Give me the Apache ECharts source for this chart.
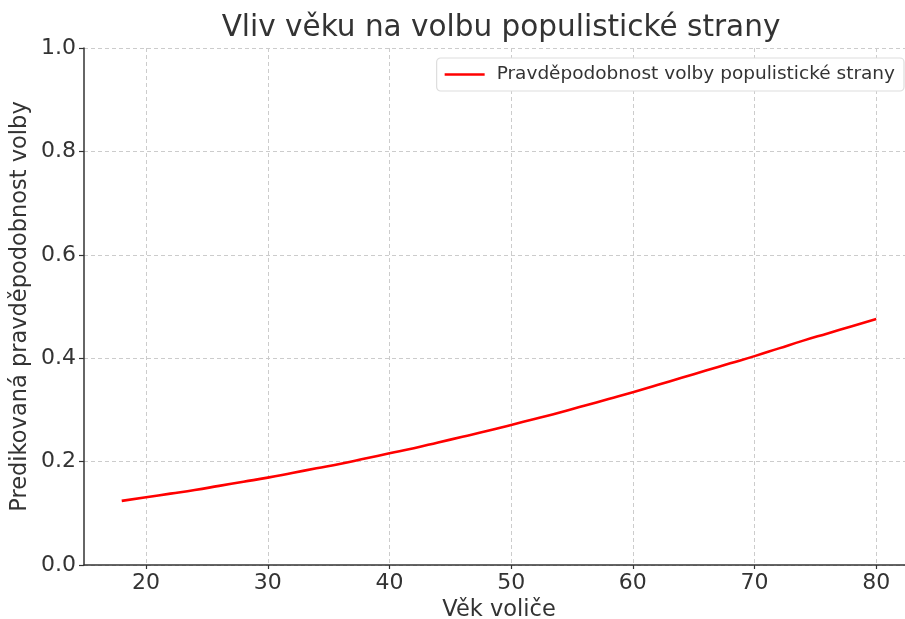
<!DOCTYPE html>
<html><head><meta charset="utf-8">
<script src="https://cdn.jsdelivr.net/npm/echarts@6/dist/echarts.min.js"></script>
<style>html,body{margin:0;padding:0;background:#fff}#c{width:905px;height:619px}</style>
</head><body><div id="c"></div>
<script>
const titleText = "Vliv věku na volbu populistické strany";
const xName = "Věk voliče";
const yName = "Predikovaná pravděpodobnost volby";
const seriesName = "Pravděpodobnost volby populistické strany";
const ages = [18,20,22,24,26,28,30,32,34,36,38,40,42,44,46,48,50,52,54,56,58,60,62,64,66,68,70,72,74,76,78,80];
const probs = [0.124,0.131,0.138,0.145,0.153,0.161,0.169,0.178,0.187,0.196,0.206,0.216,0.226,0.237,0.248,0.259,0.271,0.283,0.295,0.308,0.321,0.334,0.348,0.362,0.376,0.390,0.404,0.419,0.434,0.448,0.462,0.476];
const xTicks = [20,30,40,50,60,70,80];

const font = "DejaVu Sans";
const chart = echarts.init(document.getElementById('c'), null, {renderer:'canvas'});
chart.setOption({
  animation:false,
  title:{text:titleText,left:496,textAlign:'center',top:8,textStyle:{fontFamily:font,fontSize:29.5,fontWeight:'normal',color:'#333'}},
  legend:{data:[{name:seriesName,icon:'rect'}],right:1,top:58,itemWidth:40,itemHeight:2.5,
    padding:[7,9,7,8],borderColor:'#ddd',borderWidth:1.2,borderRadius:4,backgroundColor:'#fff',
    textStyle:{fontFamily:font,fontSize:18.5,color:'#333',padding:[0,0,0,7]}},
  grid:{left:84,top:48,width:830,height:517,containLabel:false,outerBoundsMode:'none'},
  xAxis:{type:'value',min:14.9,max:83.1,name:xName,nameLocation:'middle',nameGap:34,
    nameTextStyle:{fontFamily:font,fontSize:22.5,color:'#333'},
    axisLine:{show:true,onZero:false,lineStyle:{color:'#333',width:1.5}},
    axisTick:{show:true,length:4,inside:false,customValues:xTicks,lineStyle:{color:'#333',width:1.2}},
    axisLabel:{customValues:xTicks,fontFamily:font,fontSize:22,color:'#333',margin:7},
    splitLine:{show:true,lineStyle:{color:'#ccc',type:[4,3],width:1}}},
  yAxis:{type:'value',min:0,max:1,interval:0.2,name:yName,nameLocation:'middle',nameGap:52,nameMoveOverlap:false,
    nameTextStyle:{fontFamily:font,fontSize:22.5,color:'#333'},
    axisLine:{show:true,lineStyle:{color:'#333',width:1.5}},
    axisTick:{show:true,length:5,lineStyle:{color:'#333',width:1.2}},
    axisLabel:{fontFamily:font,fontSize:22,color:'#333',margin:8,formatter:v=>v.toFixed(1)},
    splitLine:{show:true,lineStyle:{color:'#ccc',type:[4,3],width:1}}},
  series:[{name:seriesName,type:'line',data:ages.map((a,i)=>[a,probs[i]]),smooth:true,showSymbol:false,
    lineStyle:{color:'#ff0000',width:2.6},itemStyle:{color:'#ff0000'}}]
});
</script></body></html>
